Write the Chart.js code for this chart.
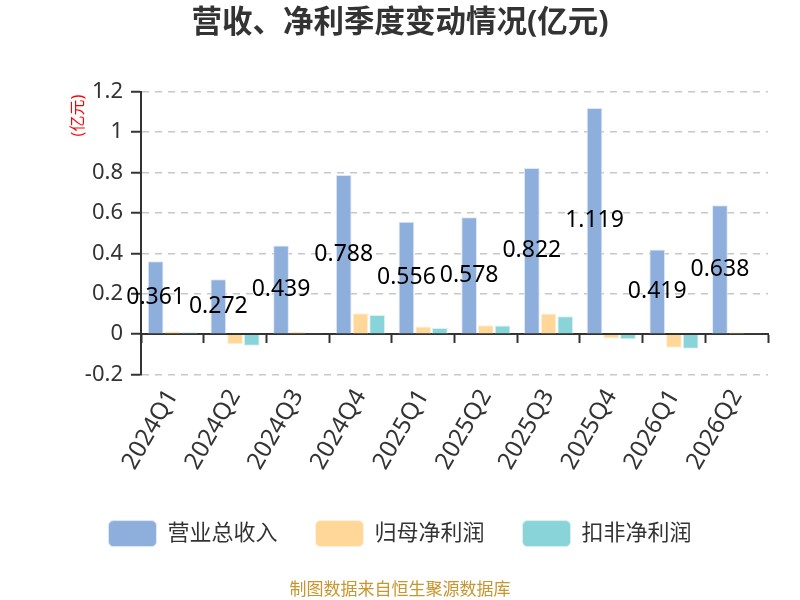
<!DOCTYPE html>
<html>
<head>
<meta charset="utf-8">
<script src="https://cdn.jsdelivr.net/npm/chart.js@4/dist/chart.umd.min.js"></script>
<style>
  body { margin: 0; background: #fff; }
  #wrap { width: 800px; height: 600px; }
</style>
</head>
<body>
<div id="wrap"><canvas id="chart"></canvas></div>
<script>
const categories = ['2024Q1', '2024Q2', '2024Q3', '2024Q4', '2025Q1', '2025Q2', '2025Q3', '2025Q4', '2026Q1', '2026Q2'];
const revenue = [0.361, 0.272, 0.439, 0.788, 0.556, 0.578, 0.822, 1.119, 0.419, 0.638];
const netProfit = [0.015, -0.050, 0.013, 0.103, 0.038, 0.044, 0.102, -0.021, -0.067, 0.010];
const deductedProfit = [0.010, -0.057, 0.002, 0.095, 0.030, 0.043, 0.089, -0.025, -0.072, 0.002];
const yTicks = [-0.2, 0, 0.2, 0.4, 0.6, 0.8, 1, 1.2];

const fontFam = '"Noto Sans", "Noto Sans CJK SC", sans-serif';

// valores sobre las barras de ingresos + titulo del eje y
const etiquetas = {
    id: 'etiquetas',
    afterDatasetsDraw(chart) {
        let ctx = chart.ctx;
        let meta = chart.getDatasetMeta(0);
        ctx.save();
        ctx.font = '23px ' + fontFam;
        ctx.fillStyle = '#000';
        ctx.textAlign = 'center';
        ctx.textBaseline = 'middle';
        meta.data.forEach(function (bar, i) {
            let mid = (bar.y + bar.base) / 2;
            ctx.fillText(revenue[i].toFixed(3), bar.x, mid);
        });
        // (亿元)
        let area = chart.chartArea;
        ctx.translate(area.left - 63, area.top + 24);
        ctx.rotate(-Math.PI / 2);
        ctx.font = '16px ' + fontFam;
        ctx.fillStyle = '#ff0000';
        ctx.fillText('(亿元)', 0, 0);
        ctx.restore();
    }
};

let ctx = document.getElementById('chart');
new Chart(ctx, {
    type: 'bar',
    data: {
        labels: categories,
        datasets: [
            { label: '营业总收入', data: revenue, backgroundColor: '#8eaedc', borderColor: '#dfe8f5', borderWidth: 1 },
            { label: '归母净利润', data: netProfit, backgroundColor: '#ffd899', borderColor: '#fff1da', borderWidth: 1 },
            { label: '扣非净利润', data: deductedProfit, backgroundColor: '#88d4d8', borderColor: '#d8f1f2', borderWidth: 1 }
        ]
    },
    options: {
        responsive: true,
        maintainAspectRatio: false,
        animation: false,
        categoryPercentage: 0.8,
        barPercentage: 0.94,
        layout: { padding: { left: 32, right: 32, top: 0, bottom: 0 } },
        scales: {
            x: {
                grid: { display: false, drawTicks: false },
                border: { display: false },
                afterFit(axis) { axis.height = 108; },
                ticks: {
                    color: '#333',
                    font: { size: 24, family: fontFam },
                    maxRotation: 60,
                    minRotation: 60,
                    padding: 10
                }
            },
            x2: {
                axis: 'x',
                type: 'category',
                labels: categories,
                position: { y: 0 },
                grid: { offset: true, drawOnChartArea: false, tickLength: 8, tickColor: '#333', tickWidth: 2 },
                border: { color: '#333', width: 2 },
                ticks: { display: false }
            },
            y: {
                min: -0.2,
                max: 1.2,
                afterBuildTicks(axis) {
                    axis.ticks = yTicks.map(v => ({ value: v }));
                },
                afterFit(axis) { axis.width = 109; },
                ticks: {
                    color: '#333',
                    font: { size: 22, family: fontFam },
                    padding: 8,
                    callback: v => String(Math.round(v * 10) / 10)
                },
                grid: {
                    color: '#c8c8c8',
                    tickColor: '#333',
                    tickLength: 10,
                    tickBorderDash: [],
                    lineWidth: 1.5,
                    tickWidth: 2
                },
                border: { color: '#333', width: 2, dash: [7, 6] }
            }
        },
        plugins: {
            title: {
                display: true,
                text: '营收、净利季度变动情况(亿元)',
                color: '#333',
                font: { size: 30.5, weight: 'bold', family: fontFam },
                padding: { top: 5, bottom: 50 }
            },
            legend: {
                position: 'bottom',
                labels: {
                    color: '#333',
                    font: { size: 22, family: fontFam },
                    boxWidth: 48,
                    boxHeight: 26,
                    useBorderRadius: true,
                    borderRadius: 5,
                    padding: 38
                }
            },
            subtitle: {
                display: true,
                position: 'bottom',
                text: '制图数据来自恒生聚源数据库',
                color: '#c8952e',
                font: { size: 17, family: fontFam },
                padding: { top: 23, bottom: 0 }
            },
            tooltip: { enabled: false }
        }
    },
    plugins: [etiquetas]
});
</script>
</body>
</html>
